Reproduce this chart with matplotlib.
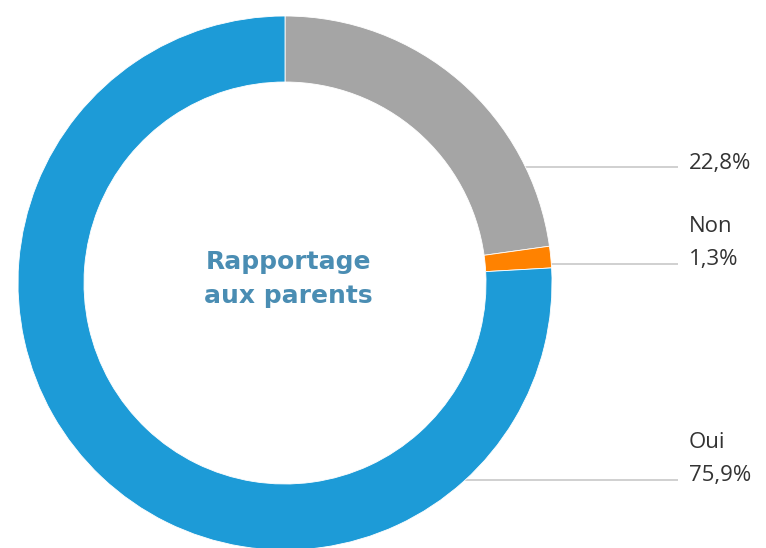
import numpy as np
import matplotlib.pyplot as plt

# Donut data (clockwise from 12 o'clock)
labels = ['', 'Non', 'Oui']
values = [22.8, 1.3, 75.9]
value_labels = ['22,8%', '1,3%', '75,9%']
colors = ['#a5a5a5', '#ff8200', '#1d9bd7']
title = 'Rapportage\naux parents'

W, H = 766, 548
fig = plt.figure(figsize=(W / 100, H / 100), dpi=100)
ax = fig.add_axes([0, 0, 1, 1])

cx, cy = 285, H - 283
r_out = 267
ring = 66

ax.pie(values, colors=colors, startangle=90, counterclock=False,
       center=(cx, cy), radius=r_out, frame=True,
       wedgeprops=dict(width=ring, edgecolor='white', linewidth=0.6))
ax.set_xlim(0, W)
ax.set_ylim(0, H)
ax.set_aspect('equal')
ax.axis('off')

ax.text(cx + 3, cy + 4, title, ha='center', va='center', fontsize=18,
        fontweight='bold', color='#4a8db3', linespacing=1.5,
        family='DejaVu Sans')

# label lines (y positions in pixels from top)
line_y = [167, 264, 480]
x_end = 678
for lab, vl, ly in zip(labels, value_labels, line_y):
    y = H - ly
    dy = y - cy
    x_start = cx + np.sqrt(max(r_out ** 2 - dy ** 2, 0)) - 22
    if abs(dy) < 40:
        x_start = cx + np.sqrt(r_out ** 2 - dy ** 2)
    ax.plot([x_start, x_end], [y, y], color='#c8c8c8', lw=1.2,
            solid_capstyle='butt', zorder=0)
    if lab:
        ax.text(689, y - 6, lab + '\n' + vl, ha='left', va='bottom',
                fontsize=16, color='#333333', linespacing=1.72,
                family='Open Sans')
    else:
        ax.text(689, y + 4, vl, ha='left', va='center',
                fontsize=16, color='#333333', family='Open Sans')

fig.savefig('out.png', dpi=100, facecolor='white')
